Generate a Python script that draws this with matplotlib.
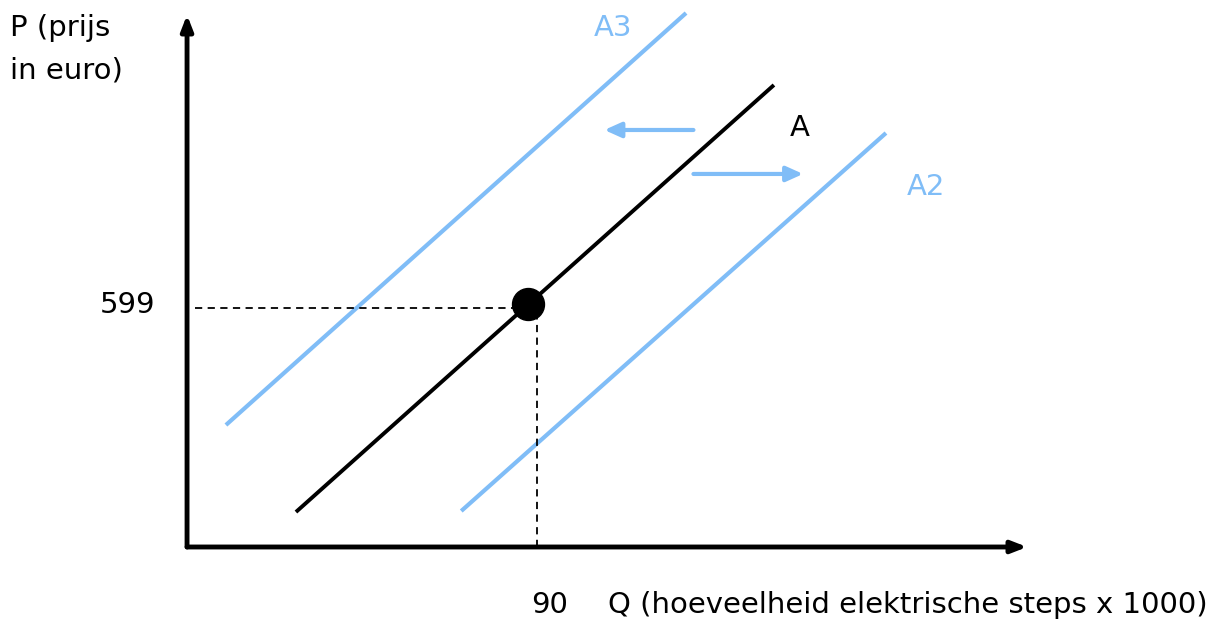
import matplotlib.pyplot as plt

# supply curves, (Q, P) end points
line_a = ([28.0, 150.9], [87.5, 1155.5])
line_a3 = ([10.0, 128.3], [305.1, 1335.5])
line_a2 = ([70.5, 179.7], [90.0, 1035.4])

# equilibrium
eq_q, eq_p = 87.6, 609
q_tick, p_tick = 90, 599

# shift arrows (start, end, P level)
arrow_left = (130.2, 107.3, 1043)
arrow_right = (130.2, 158.4, 933)

q_max, p_max = 216, 1331

blue = '#80bdf7'

fig = plt.figure(figsize=(12.22, 6.21), dpi=100)
ax = fig.add_axes([0, 0, 1, 1])
ax.set_xlim(-48.09, 266.1)
ax.set_ylim(-185.1, 1368.1)
ax.axis('off')

fs = 21
plt.rcParams['font.family'] = ['DejaVu Sans']

# axes with arrows
for xy in [(q_max, 0), (0, p_max)]:
    ax.annotate('', xy=xy, xytext=(0, 0),
                arrowprops=dict(arrowstyle='-|>,head_length=0.9,head_width=0.35', color='black', lw=3.5,
                                shrinkA=0, shrinkB=0))

# curves
ax.plot(*line_a3, color=blue, lw=3, solid_capstyle='butt')
ax.plot(*line_a2, color=blue, lw=3, solid_capstyle='butt')
ax.plot(*line_a, color='black', lw=2.8, solid_capstyle='butt')

# dashed guides
ax.plot([2, eq_q], [p_tick, p_tick], color='black', lw=1.3, ls=(0, (4, 3)))
ax.plot([q_tick, q_tick], [0, eq_p], color='black', lw=1.3, ls=(0, (4, 3)))
ax.plot(eq_q, eq_p, 'o', color='black', ms=23, zorder=5)

# shift arrows
for x0, x1, y in (arrow_left, arrow_right):
    ax.annotate('', xy=(x1, y), xytext=(x0, y),
                arrowprops=dict(arrowstyle='-|>,head_length=1.0,head_width=0.45', color=blue, lw=3,
                                shrinkA=0, shrinkB=0))

# labels
ax.text(157.6, 1048, 'A', fontsize=fs, ha='center', va='center')
ax.text(190.0, 900, 'A2', fontsize=fs, ha='center', va='center', color=blue)
ax.text(109.5, 1298, 'A3', fontsize=fs, ha='center', va='center', color=blue)
ax.text(-8.2, 605, str(p_tick), fontsize=fs, ha='right', va='center')
ax.text(93.3, -145, str(q_tick), fontsize=fs, ha='center', va='center')
ax.text(108.3, -145, 'Q (hoeveelheid elektrische steps x 1000)', fontsize=fs, ha='left', va='center')
ax.text(-45.5, 1298, 'P (prijs', fontsize=fs, ha='left', va='center')
ax.text(-45.5, 1193, 'in euro)', fontsize=fs, ha='left', va='center')

fig.savefig('out.png', dpi=100)
